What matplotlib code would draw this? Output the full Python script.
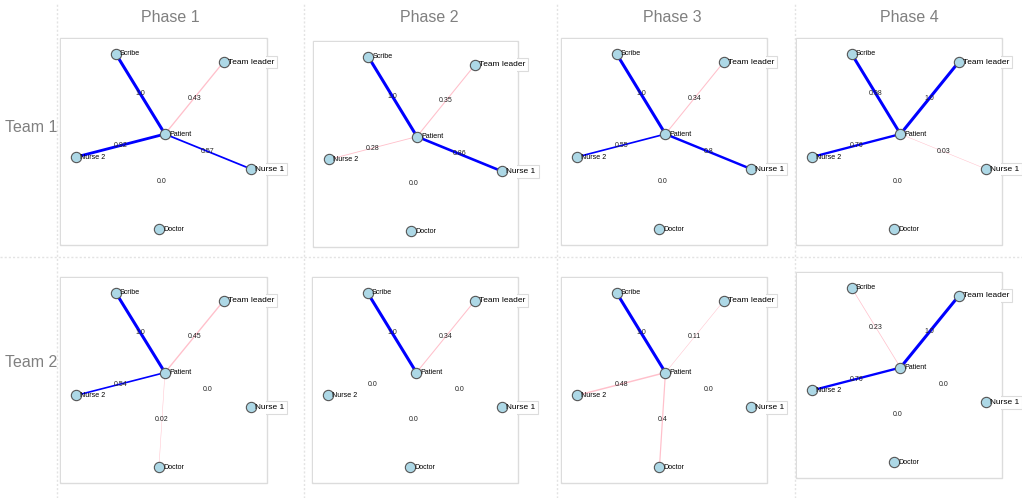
import matplotlib
matplotlib.use("Agg")
import matplotlib.pyplot as plt
from matplotlib.patches import Rectangle
from matplotlib.lines import Line2D

plt.rcParams['font.family'] = ['Liberation Sans', 'DejaVu Sans']

# ---------------- data ----------------
teams = ["Team 1", "Team 2"]
phases = ["Phase 1", "Phase 2", "Phase 3", "Phase 4"]
hub = "Patient"
roles = ["Scribe", "Team leader", "Nurse 2", "Nurse 1", "Doctor"]

# weights Patient -> role, order as in `roles`
team1_weights = [
    [1.0, 0.43, 0.92, 0.57, 0.0],
    [1.0, 0.35, 0.28, 0.86, 0.0],
    [1.0, 0.34, 0.55, 0.8, 0.0],
    [0.98, 1.0, 0.76, 0.03, 0.0],
]
team2_weights = [
    [1.0, 0.45, 0.54, 0.0, 0.02],
    [1.0, 0.34, 0.0, 0.0, 0.0],
    [1.0, 0.11, 0.48, 0.0, 0.4],
    [0.23, 1.0, 0.76, 0.0, 0.0],
]
all_weights = [team1_weights, team2_weights]

# fixed node layout (normalised inside each panel frame)
node_pos = {
    "Scribe": (0.27, 0.923),
    "Team leader": (0.79, 0.884),
    "Patient": (0.507, 0.536),
    "Nurse 2": (0.077, 0.425),
    "Nurse 1": (0.923, 0.367),
    "Doctor": (0.478, 0.077),
}
big_labels = {"Team leader", "Nurse 1"}

# ---------------- layout ----------------
W, H = 1022, 498
fig = plt.figure(figsize=(W / 100, H / 100), dpi=100)
fig.patch.set_facecolor("white")

frames = [
    [(60, 38, 267, 245), (313, 41, 518, 247), (561, 38, 767, 245), (796, 38, 1002, 245)],
    [(60, 277, 267, 483), (312, 277, 518, 483), (561, 277, 767, 483), (796, 272, 1002, 478)],
]

grid_col = "#e3e3e3"
# dotted separators
for xv in [57, 304, 557, 795]:
    fig.add_artist(Line2D([xv / W, xv / W], [0, 1 - 4 / H], transform=fig.transFigure,
                          color=grid_col, lw=1, ls=(0, (1.5, 1.5))))
fig.add_artist(Line2D([0, 1], [1 - 257 / H, 1 - 257 / H], transform=fig.transFigure,
                      color=grid_col, lw=1, ls=(0, (1.5, 1.5))))

title_col = "#808080"
for x, t in zip([170, 429, 672, 909], phases):
    fig.text(x / W, 1 - 18 / H, t, ha="center", va="center", fontsize=11.5, color=title_col)
for y, t in zip([128, 362], teams):
    fig.text(31 / W, 1 - y / H, t, ha="center", va="center", fontsize=11.5, color=title_col)

frame_col = "#dcdcdc"
blue = "#0000ff"
pink = "#ffc0cb"

for r in range(2):
    for c in range(4):
        x0, y0, x1, y1 = frames[r][c]
        ax = fig.add_axes([x0 / W, 1 - y1 / H, (x1 - x0) / W, (y1 - y0) / H])
        ax.set_xlim(0, 1)
        ax.set_ylim(0, 1)
        ax.axis("off")
        # frame
        ax.add_patch(Rectangle((0, 0), 1, 1, transform=ax.transAxes, fill=False,
                               edgecolor=frame_col, lw=1, zorder=1, clip_on=False))
        # label boxes (only the part outside the frame remains visible)
        for name, (nx, ny) in node_pos.items():
            fs = 6 if name in big_labels else 5.1
            ax.annotate(name, (nx, ny), xytext=(3, 0), textcoords="offset points",
                        ha="left", va="center", fontsize=fs, color="white",
                        bbox=dict(boxstyle="square,pad=0.35", fc="white", ec=frame_col, lw=0.8),
                        zorder=2, annotation_clip=False)
        # white interior cover
        ax.add_patch(Rectangle((0.004, 0.004), 0.992, 0.992, transform=ax.transAxes,
                               facecolor="white", edgecolor="none", zorder=3, clip_on=False))
        wts = all_weights[r][c]
        hx, hy = node_pos[hub]
        for role, w in zip(roles, wts):
            rx, ry = node_pos[role]
            if w > 0:
                col = blue if w >= 0.5 else pink
                ax.plot([hx, rx], [hy, ry], color=col, lw=max(2.2 * w, 0.35),
                        solid_capstyle="butt", zorder=4, clip_on=False)
            ax.text((hx + rx) / 2, (hy + ry) / 2, str(round(w, 2)), ha="center", va="center",
                    fontsize=5, color="#222222", zorder=7)
        xs = [p[0] for p in node_pos.values()]
        ys = [p[1] for p in node_pos.values()]
        ax.scatter(xs, ys, s=55, c="#add8e6", edgecolors="#555555", linewidths=0.8,
                   zorder=5, clip_on=False)
        for name, (nx, ny) in node_pos.items():
            fs = 6 if name in big_labels else 5.1
            ax.annotate(name, (nx, ny), xytext=(3, 0), textcoords="offset points",
                        ha="left", va="center", fontsize=fs, color="black",
                        zorder=6, annotation_clip=False)

fig.savefig("out.png", dpi=100, facecolor="white")
